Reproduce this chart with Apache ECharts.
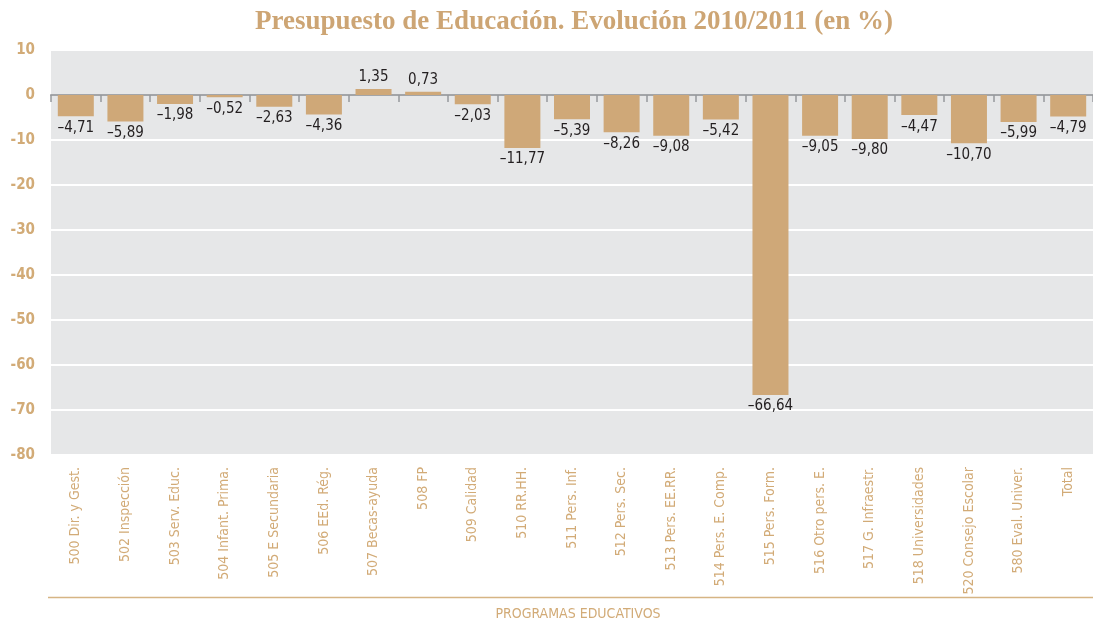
<!DOCTYPE html>
<html>
<head>
<meta charset="utf-8">
<script src="https://cdn.jsdelivr.net/npm/echarts@6/dist/echarts.min.js"></script>
<style>
  html, body { margin: 0; padding: 0; background: #ffffff; }
  #chart { width: 1093px; height: 621px; }
</style>
</head>
<body>
<div id="chart"></div>
<script>
  const categories = [
    '500 Dir. y Gest.', '502 Inspección', '503 Serv. Educ.', '504 Infant. Prima.',
    '505 E Secundaria', '506 EEd. Rég.', '507 Becas-ayuda', '508 FP', '509 Calidad',
    '510 RR.HH.', '511 Pers. Inf.', '512 Pers. Sec.', '513 Pers. EE.RR.',
    '514 Pers. E. Comp.', '515 Pers. Form.', '516 Otro pers. E.', '517 G. Infraestr.',
    '518 Universidades', '520 Consejo Escolar', '580 Eval. Univer.', 'Total'
  ];
  const values = [
    -4.71, -5.89, -1.98, -0.52, -2.63, -4.36, 1.35, 0.73, -2.03, -11.77, -5.39,
    -8.26, -9.08, -5.42, -66.64, -9.05, -9.80, -4.47, -10.70, -5.99, -4.79
  ];
  const yTicks = [10, 0, -10, -20, -30, -40, -50, -60, -70, -80];

  const gold = '#d2ab77';
  const barColor = '#cfa878';
  const narrow = "'Liberation Sans Narrow', 'DejaVu Sans Condensed', sans-serif";

  const fmt = function (v) {
    return (v < 0 ? '\u2013' : '') + Math.abs(v).toFixed(2).replace('.', ',');
  };

  const chart = echarts.init(document.getElementById('chart'), null, { renderer: 'canvas' });

  chart.setOption({
    animation: false,
    backgroundColor: '#ffffff',
    grid: {
      left: 51, top: 50, width: 1050, height: 405,
      show: true, backgroundColor: '#e6e7e8', borderWidth: 0
    },
    graphic: [
      {
        type: 'text', x: 574, y: 22,
        style: {
          text: 'Presupuesto de Educación. Evolución 2010/2011 (en %)',
          align: 'center', verticalAlign: 'middle',
          font: "bold 27px 'Liberation Serif', 'DejaVu Serif', serif",
          fill: '#cda574'
        }
      },
      {
        type: 'line',
        shape: { x1: 48, y1: 597.5, x2: 1093, y2: 597.5 },
        style: { stroke: '#d6b584', lineWidth: 1.5 }
      },
      {
        type: 'text', x: 578, y: 614,
        style: {
          text: 'PROGRAMAS EDUCATIVOS',
          align: 'center', verticalAlign: 'middle',
          font: '14px ' + narrow,
          fill: gold
        }
      }
    ],
    xAxis: [
      {
        type: 'category',
        data: categories,
        axisLine: { onZero: true, lineStyle: { color: '#a3a5a8', width: 2 } },
        axisTick: { show: true, interval: 0, length: 7, lineStyle: { color: '#97999c', width: 1.5 } },
        axisLabel: { show: false, interval: 0 },
        splitLine: { show: false }
      },
      {
        type: 'category',
        data: categories,
        position: 'bottom',
        axisLine: { show: false, onZero: false },
        axisTick: { show: false },
        axisLabel: {
          rotate: 90,
          margin: 12,
          color: gold,
          fontSize: 14,
          fontFamily: narrow,
          interval: 0
        }
      }
    ],
    yAxis: {
      type: 'value',
      min: -80, max: 10, interval: 10,
      axisLine: { show: false },
      axisTick: { show: false },
      splitLine: { show: true, lineStyle: { color: '#ffffff', width: 2 } },
      axisLabel: {
        color: gold,
        fontSize: 15,
        fontWeight: 'bold',
        fontFamily: narrow,
        margin: 16,
        formatter: function (v) { return yTicks.indexOf(v) >= 0 ? String(v) : ''; }
      }
    },
    series: [
      {
        type: 'bar',
        xAxisIndex: 0,
        barWidth: 36,
        itemStyle: { color: barColor },
        data: values.map(function (v) {
          return {
            value: v,
            label: { position: v >= 0 ? 'top' : 'bottom' }
          };
        }),
        label: {
          show: true,
          distance: 4,
          color: '#231f20',
          fontSize: 15,
          fontFamily: narrow,
          formatter: function (p) { return fmt(p.value); }
        }
      }
    ]
  });
</script>
</body>
</html>
